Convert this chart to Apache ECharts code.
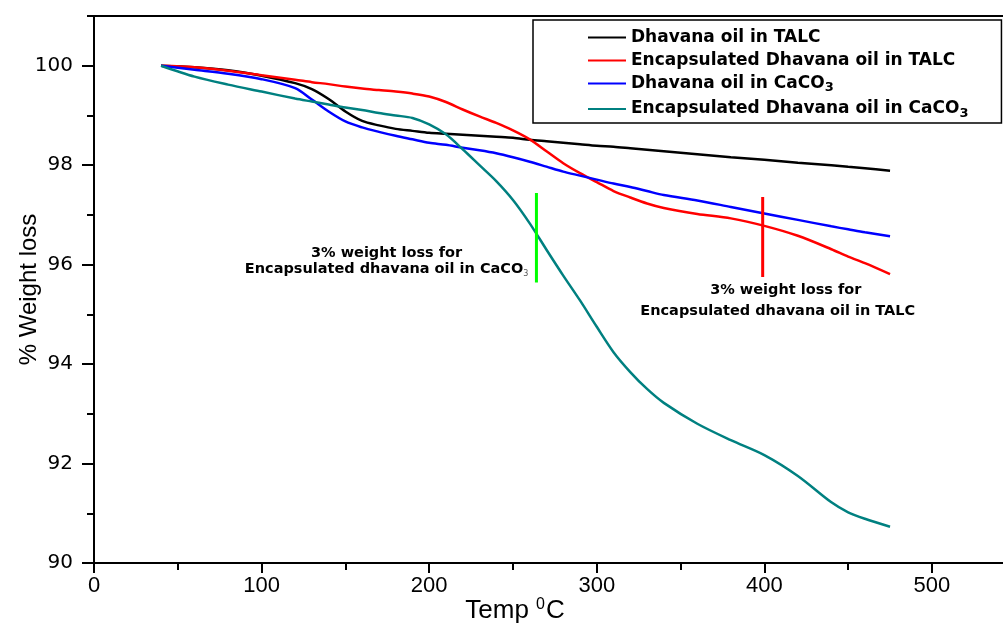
<!DOCTYPE html>
<html>
<head>
<meta charset="utf-8">
<script src="https://cdn.jsdelivr.net/npm/echarts@6/dist/echarts.min.js"></script>
<style>
  html, body { margin: 0; padding: 0; background: #fff; }
  #chart { width: 1003px; height: 624px; }
</style>
</head>
<body>
<div id="chart"></div>
<script>
// Temperatures (°C) at which each TGA curve is sampled
const temps = [40, 60, 80, 100, 120, 130, 140, 150, 160, 170, 180, 190, 200, 210, 220, 230, 240, 250,
  260, 270, 280, 290, 300, 310, 320, 330, 340, 360, 380, 400, 420, 440, 450, 460, 475];

// Remaining weight (%) for each sample
const talcOil = [100.00, 99.97, 99.91, 99.80, 99.65, 99.53, 99.33, 99.08, 98.89, 98.80, 98.73, 98.69, 98.65, 98.63, 98.61, 98.59, 98.57, 98.55,
  98.51, 98.48, 98.45, 98.42, 98.39, 98.37, 98.34, 98.31, 98.28, 98.22, 98.16, 98.11, 98.05, 98.00, 97.97, 97.94, 97.89];
const talcEncap = [100.00, 99.97, 99.90, 99.81, 99.72, 99.67, 99.63, 99.58, 99.54, 99.51, 99.48, 99.44, 99.38, 99.27, 99.12, 98.98, 98.85, 98.70,
  98.52, 98.28, 98.04, 97.84, 97.66, 97.48, 97.35, 97.23, 97.14, 97.02, 96.93, 96.78, 96.58, 96.31, 96.16, 96.03, 95.81];
const caco3Oil = [100.00, 99.92, 99.84, 99.73, 99.55, 99.32, 99.08, 98.88, 98.76, 98.67, 98.59, 98.52, 98.45, 98.41, 98.35, 98.30, 98.24, 98.16,
  98.07, 97.97, 97.87, 97.79, 97.71, 97.63, 97.56, 97.48, 97.40, 97.29, 97.16, 97.03, 96.90, 96.77, 96.71, 96.65, 96.57];
const caco3Encap = [100.00, 99.78, 99.62, 99.48, 99.34, 99.28, 99.22, 99.16, 99.11, 99.05, 99.00, 98.95, 98.82, 98.62, 98.32, 98.00, 97.68, 97.30,
  96.83, 96.30, 95.78, 95.28, 94.75, 94.24, 93.84, 93.50, 93.22, 92.80, 92.47, 92.17, 91.75, 91.22, 91.02, 90.89, 90.73];

const seriesNames = ['Dhavana oil in TALC', 'Encapsulated Dhavana oil in TALC',
  'Dhavana oil in CaCO3', 'Encapsulated Dhavana oil in CaCO3'];

// Axis ticks
const xMajor = [0, 100, 200, 300, 400, 500];
const xMinor = [50, 150, 250, 350, 450];
const yMajor = [90, 92, 94, 96, 98, 100];
const yMinor = [91, 93, 95, 97, 99, 101];

// 3 % weight-loss markers: temperature and the weight range the bar spans
const markerTemps = [264, 399];
const markerTop = [97.44, 97.36];
const markerBottom = [95.64, 95.75];

// Annotation text anchored in data units (temperature, weight)
const noteTemps = [174.6, 412.8, 408.0];
const noteValues = [96.06, 95.49, 95.07];
const noteTexts = [
  '3% weight loss for\nEncapsulated dhavana oil in CaCO3',
  '3% weight loss for',
  'Encapsulated dhavana oil in TALC'
];

const colors = ['#000000', '#ff0000', '#0000ff', '#008080'];
const markerColors = ['#00ff00', '#ff0000'];

// Turn "CaCO3" into a rich-text subscript
function richText(text, key, sub) {
  return text.split('\n').map(function (line) {
    if (/CaCO3$/.test(line)) {
      return '{' + key + '|' + line.slice(0, -1) + '}{' + sub + '|3}';
    }
    return '{' + key + '|' + line + '}';
  }).join('\n');
}

const chart = echarts.init(document.getElementById('chart'), null, { renderer: 'canvas' });

const lineSeries = [talcOil, talcEncap, caco3Oil, caco3Encap].map(function (vals, i) {
  return {
    name: seriesNames[i],
    type: 'line',
    xAxisIndex: 0,
    yAxisIndex: 0,
    data: temps.map(function (t, j) { return [t, vals[j]]; }),
    symbol: 'none',
    showSymbol: false,
    smooth: 0.3,
    lineStyle: { color: colors[i], width: 2.5 },
    itemStyle: { color: colors[i] },
    z: 3 + i,
    silent: true
  };
});

const markerSeries = markerTemps.map(function (t, i) {
  return {
    name: 'marker' + i,
    type: 'line',
    xAxisIndex: 0,
    yAxisIndex: 0,
    data: [[t, markerTop[i]], [t, markerBottom[i]]],
    symbol: 'none',
    lineStyle: { color: markerColors[i], width: 3 },
    z: 8,
    silent: true
  };
});

const noteSeries = {
  name: 'notes',
  type: 'scatter',
  xAxisIndex: 0,
  yAxisIndex: 0,
  symbolSize: 0,
  silent: true,
  z: 9,
  itemStyle: { opacity: 1, color: 'rgba(0,0,0,0)' },
  data: noteTemps.map(function (t, i) {
    return { value: [t, noteValues[i]], text: noteTexts[i] };
  }),
  label: {
    show: true,
    position: [0, 0],
    align: 'center',
    verticalAlign: 'middle',
    color: '#000',
    opacity: 1,
    textBorderWidth: 0,
    formatter: function (p) { return richText(p.data.text, 'n', 's'); },
    rich: {
      n: { fontFamily: 'DejaVu Sans', fontWeight: 'bold', fontSize: 14.5, color: '#000', lineHeight: 16, textBorderWidth: 0 },
      s: { fontFamily: 'DejaVu Sans', fontSize: 8, color: '#555', lineHeight: 16, verticalAlign: 'bottom', padding: [8, 0, 0, 0], textBorderWidth: 0 }
    }
  }
};

const axisLineStyle = { color: '#000', width: 2 };

chart.setOption({
  animation: false,
  backgroundColor: '#ffffff',
  grid: { left: 94, right: 0, top: 16, bottom: 61, containLabel: false, outerBoundsMode: 'none' },
  legend: {
    data: seriesNames,
    orient: 'vertical',
    left: 533,
    top: 20,
    padding: [9, 33, 3, 54],
    itemGap: 6,
    itemWidth: 38,
    itemHeight: 14,
    borderColor: '#000',
    borderWidth: 1.5,
    backgroundColor: '#fff',
    selectedMode: false,
    itemStyle: { opacity: 0 },
    lineStyle: { width: 2 },
    formatter: function (name) { return richText(name, 't', 's'); },
    textStyle: {
      rich: {
        t: { fontFamily: 'DejaVu Sans', fontWeight: 'bold', fontSize: 17, color: '#000' },
        s: { fontFamily: 'DejaVu Sans', fontWeight: 'bold', fontSize: 13, color: '#000', verticalAlign: 'bottom', padding: [9, 0, 0, 0] }
      }
    }
  },
  xAxis: [
    {
      type: 'value', min: 0, max: 542.4, position: 'bottom',
      axisLine: { show: true, onZero: false, lineStyle: axisLineStyle },
      axisTick: { show: true, inside: false, length: 10, customValues: xMajor, lineStyle: axisLineStyle },
      axisLabel: {
        show: true, customValues: xMajor, margin: 12, color: '#000',
        fontFamily: '"Liberation Sans Narrow", "Liberation Sans"', fontSize: 22
      },
      splitLine: { show: false },
      name: '{n|Temp }{p|0}{n|C}',
      nameLocation: 'middle',
      nameGap: 34,
      nameMoveOverlap: false,
      nameTextStyle: {
        padding: [0, 67, 0, 0],
        rich: {
          n: { fontFamily: 'Liberation Sans', fontSize: 26, color: '#000', lineHeight: 28 },
          p: { fontFamily: 'Liberation Sans', fontSize: 16, color: '#000', lineHeight: 28, verticalAlign: 'top', padding: [0, 1, 12, 0] }
        }
      }
    },
    {
      type: 'value', min: 0, max: 542.4, position: 'bottom',
      axisLine: { show: false, onZero: false },
      axisTick: { show: true, length: 7, customValues: xMinor, lineStyle: axisLineStyle },
      axisLabel: { show: false },
      splitLine: { show: false }
    },
    {
      type: 'value', min: 0, max: 542.4, position: 'top',
      axisLine: { show: true, onZero: false, lineStyle: axisLineStyle },
      axisTick: { show: false },
      axisLabel: { show: false },
      splitLine: { show: false }
    }
  ],
  yAxis: [
    {
      type: 'value', min: 90, max: 101, position: 'left',
      axisLine: { show: true, onZero: false, lineStyle: axisLineStyle },
      axisTick: { show: true, length: 12, customValues: yMajor, lineStyle: axisLineStyle },
      axisLabel: {
        show: true, customValues: yMajor, margin: 21, color: '#000',
        fontFamily: 'DejaVu Sans', fontSize: 20
      },
      splitLine: { show: false },
      name: '% Weight loss',
      nameLocation: 'middle',
      nameRotate: 90,
      nameGap: 53,
      nameMoveOverlap: false,
      nameTextStyle: { fontFamily: 'Liberation Sans', fontSize: 24, color: '#000' }
    },
    {
      type: 'value', min: 90, max: 101, position: 'left', offset: 0,
      axisLine: { show: false, onZero: false },
      axisTick: { show: true, length: 7, customValues: yMinor, lineStyle: axisLineStyle },
      axisLabel: { show: false },
      splitLine: { show: false }
    }
  ],
  series: lineSeries.concat(markerSeries, [noteSeries])
});
</script>
</body>
</html>
